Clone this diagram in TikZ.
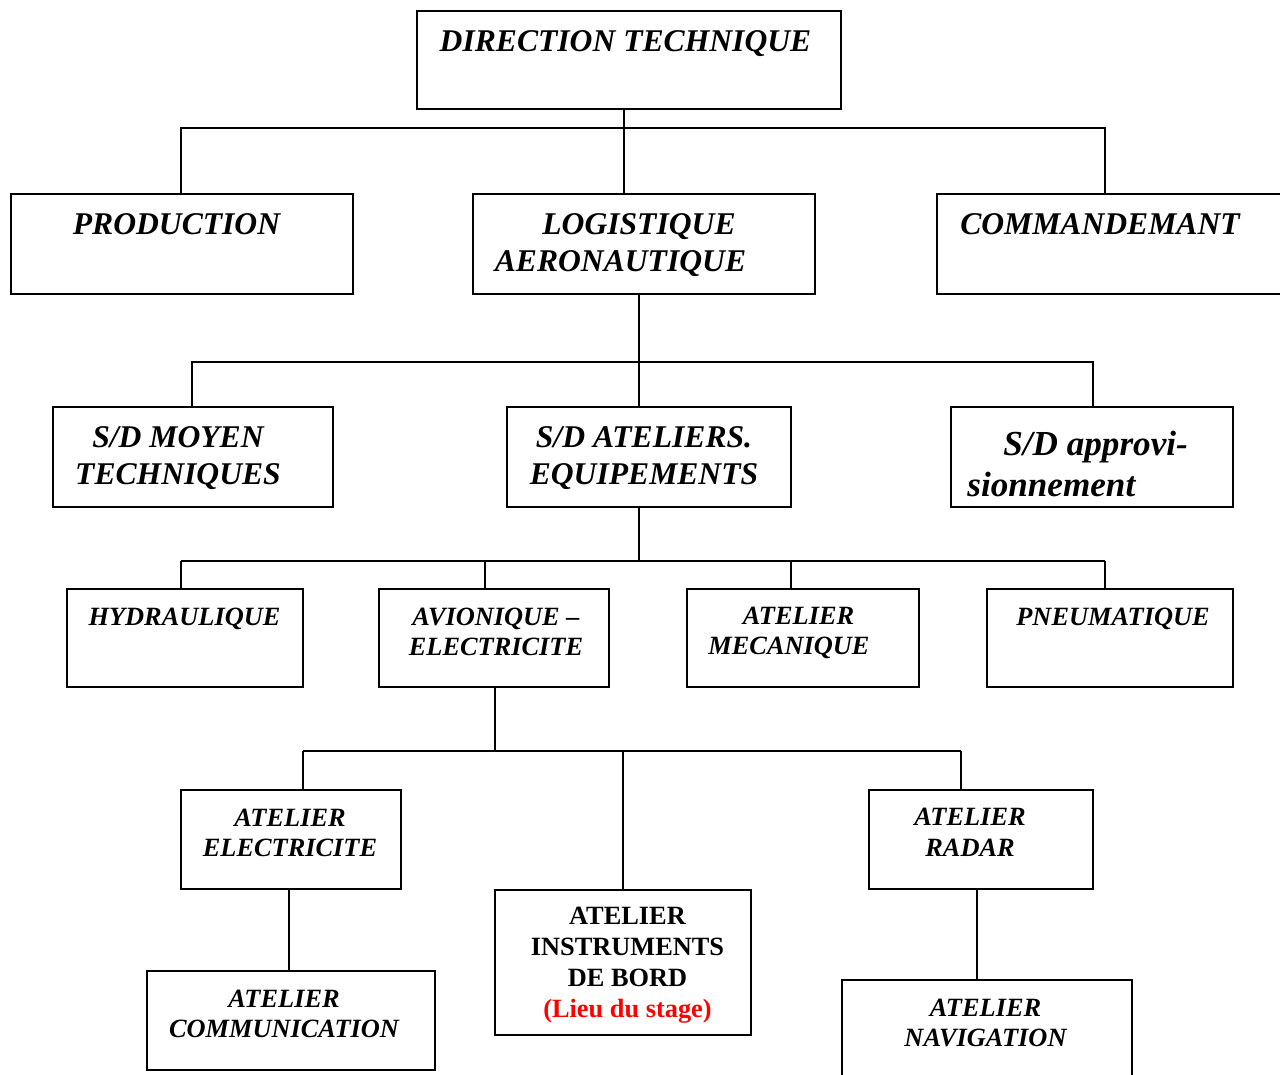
\documentclass[tikz,border=0pt]{standalone}
\usepackage{fontspec}
\setmainfont{Liberation Serif}
\tikzset{
  boite/.style={draw, line width=1.1pt, inner sep=0pt},
  titre/.style={font=\bfseries\itshape\fontsize{18}{21}\selectfont, align=center, inner sep=0pt},
  atelier/.style={font=\bfseries\itshape\fontsize{15}{17.5}\selectfont, align=center, inner sep=0pt},
  lien/.style={line width=0.85pt}
}
\begin{document}
\begin{tikzpicture}[x=0.02cm, y=-0.02cm]
  \useasboundingbox (0,0) rectangle (1280,1074);

  % Direction
  \node[boite, minimum width=8.48cm, minimum height=1.96cm] (dir) at (629,60) {};
  \node[titre] (dir-t) at (625.5,44) {DIRECTION TECHNIQUE};

  % Premier niveau
  \node[boite, minimum width=6.84cm, minimum height=2cm] (prod) at (182,244) {};
  \node[titre] (prod-t) at (176.5,224) {PRODUCTION};
  \node[boite, minimum width=6.84cm, minimum height=2cm] (logi) at (644,244) {};
  \node[titre] (logi-t) at (620.5,245) {\hspace*{0.74cm}LOGISTIQUE\\AERONAUTIQUE};
  \node[boite, minimum width=7.04cm, minimum height=2cm] (comm) at (1113,244) {};
  \node[titre] (comm-t) at (1100,224) {COMMANDEMANT};

  % Sous-directions
  \node[boite, minimum width=5.6cm, minimum height=2cm] (moy) at (193,457) {};
  \node[titre] (moy-t) at (178,458) {S/D MOYEN\\TECHNIQUES};
  \node[boite, minimum width=5.68cm, minimum height=2cm] (atel) at (649,457) {};
  \node[titre] (atel-t) at (644,458) {S/D ATELIERS.\\EQUIPEMENTS};
  \node[boite, minimum width=5.64cm, minimum height=2cm] (appro) at (1092,457) {};
  \node[titre, font=\bfseries\itshape\fontsize{20}{23.5}\selectfont, align=left, anchor=west]
    (appro-t) at (967,464) {\hspace*{0.72cm}S/D approvi-\\sionnement};

  % Ateliers
  \node[boite, minimum width=4.72cm, minimum height=1.96cm] (hyd) at (185,638) {};
  \node[atelier] (hyd-t) at (184.5,619) {HYDRAULIQUE};
  \node[boite, minimum width=4.6cm, minimum height=1.96cm] (avio) at (494,638) {};
  \node[atelier] (avio-t) at (496,632) {AVIONIQUE –\\ELECTRICITE};
  \node[boite, minimum width=4.64cm, minimum height=1.96cm] (meca) at (803,638) {};
  \node[atelier] (meca-t) at (789,633) {\hspace*{0.38cm}ATELIER\\MECANIQUE};
  \node[boite, minimum width=4.92cm, minimum height=1.96cm] (pneu) at (1110,638) {};
  \node[atelier] (pneu-t) at (1113,619) {PNEUMATIQUE};

  % Avionique
  \node[boite, minimum width=4.4cm, minimum height=1.98cm] (elec) at (291,839.5) {};
  \node[atelier] (elec-t) at (290,833) {ATELIER\\ELECTRICITE};
  \node[boite, minimum width=5.12cm, minimum height=2.9cm] (instr) at (623,962.5) {};
  \node[atelier, font=\bfseries\fontsize{15}{17.6}\selectfont] (instr-t) at (627.5,965.5)
    {ATELIER\\INSTRUMENTS\\DE BORD\\\textcolor{red}{(Lieu du stage)}};
  \node[boite, minimum width=4.48cm, minimum height=1.98cm] (radar) at (981,839.5) {};
  \node[atelier] (radar-t) at (970,832) {ATELIER\\RADAR};
  \node[boite, minimum width=5.76cm, minimum height=1.98cm] (comu) at (291,1020.5) {};
  \node[atelier] (comu-t) at (284,1014) {ATELIER\\COMMUNICATION};
  \node[boite, minimum width=5.8cm, minimum height=2.2cm] (navi) at (987,1035) {};
  \node[atelier] (navi-t) at (985.5,1023) {ATELIER\\NAVIGATION};

  % Liaisons niveau 1
  \coordinate (b1g) at (181,128);
  \coordinate (b1d) at (1105,128);
  \draw[lien] (b1g |- prod.north) -- (b1g) -- (b1d) -- (b1d |- comm.north);
  \draw[lien] (624,0 |- dir.south) -- (624,0 |- logi.north);

  % Liaisons niveau 2
  \coordinate (b2g) at (192,362);
  \coordinate (b2d) at (1093,362);
  \draw[lien] (b2g |- moy.north) -- (b2g) -- (b2d) -- (b2d |- appro.north);
  \draw[lien] (639,0 |- logi.south) -- (639,0 |- atel.north);

  % Liaisons niveau 3
  \coordinate (b3g) at (181,561);
  \coordinate (b3d) at (1105,561);
  \draw[lien] (b3g) -- (b3d);
  \draw[lien] (639,0 |- atel.south) -- (639,561);
  \foreach \c/\b in {181/hyd, 485/avio, 791/meca, 1105/pneu}
    \draw[lien] (\c,561) -- (\c,0 |- \b.north);

  % Liaisons niveau 4
  \coordinate (b4g) at (303,751);
  \coordinate (b4d) at (961,751);
  \draw[lien] (b4g) -- (b4d);
  \draw[lien] (495,0 |- avio.south) -- (495,751);
  \foreach \c/\b in {303/elec, 623/instr, 961/radar}
    \draw[lien] (\c,751) -- (\c,0 |- \b.north);

  % Liaisons niveau 5
  \draw[lien] (289,0 |- elec.south) -- (289,0 |- comu.north);
  \draw[lien] (977,0 |- radar.south) -- (977,0 |- navi.north);
\end{tikzpicture}
\end{document}
